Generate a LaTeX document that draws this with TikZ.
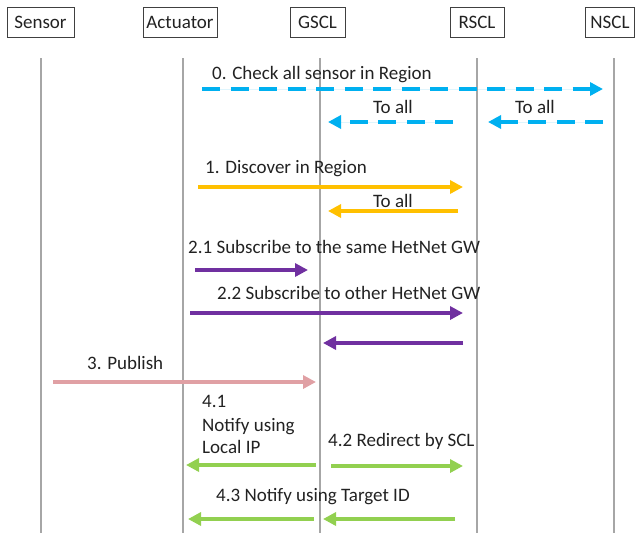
\documentclass[tikz,border=0pt]{standalone}
\usepackage{fontspec}
\setmainfont{Carlito}
\usetikzlibrary{arrows.meta}
\definecolor{cblue}{HTML}{00B0F0}
\definecolor{cgold}{HTML}{FFC000}
\definecolor{cpurple}{HTML}{7030A0}
\definecolor{cpink}{HTML}{E0A0A4}
\definecolor{cgreen}{HTML}{92D050}
\definecolor{cline}{HTML}{A6A6A6}
\definecolor{ctext}{HTML}{222222}
\tikzset{
  hdr/.style={draw=black!75, line width=0.9pt, minimum height=30pt, inner sep=0pt, text=ctext},
  life/.style={draw=cline, line width=1.1pt},
  msg/.style={line width=4.5pt, -{Triangle[length=13pt,width=13pt]}, shorten >=0pt},
  dmsg/.style={msg, dash pattern=on 18pt off 10.5pt},
  lbl/.style={anchor=base west, inner sep=0pt, text=ctext},
  clbl/.style={anchor=base, inner sep=0pt, text=ctext}
}
\begin{document}
\begin{tikzpicture}[x=1pt,y=-1pt,font=\fontsize{19}{23}\selectfont]
\useasboundingbox (0,0) rectangle (636,536);
% headers
\node[hdr, minimum width=67pt] (sensor) at (40.5,22) {Sensor};
\node[hdr, minimum width=74pt] (actuator) at (180,22) {Actuator};
\node[hdr, minimum width=55pt] (gscl) at (317.5,22) {GSCL};
\node[hdr, minimum width=54pt] (rscl) at (477,22) {RSCL};
\node[hdr, minimum width=49pt] (nscl) at (610,22) {NSCL};
% lifelines
\coordinate (sT) at (41,58);  \coordinate (sB) at (41,533);
\coordinate (aT) at (183,58); \coordinate (aB) at (183,533);
\coordinate (gT) at (320,58); \coordinate (gB) at (320,533);
\coordinate (rT) at (477,58); \coordinate (rB) at (477,533);
\coordinate (nT) at (614,58); \coordinate (nB) at (614,533);
\draw[life] (sT) -- (sB);
\draw[life] (aT) -- (aB);
\draw[life] (gT) -- (gB);
\draw[life] (rT) -- (rB);
\draw[life] (nT) -- (nB);
% 0
\coordinate (m0a) at (202,89); \coordinate (m0b) at (603,89);
\draw[dmsg, draw=cblue, fill=cblue] (m0a) -- (m0b);
\node[lbl] (l0) at (212,79) {0. Check all sensor in Region};
\coordinate (m0c) at (453,122); \coordinate (m0d) at (328,122);
\draw[dmsg, draw=cblue, fill=cblue] (m0c) -- (m0d);
\node[clbl] (l0b) at (393,113) {To all};
\coordinate (m0e) at (603,122); \coordinate (m0f) at (488,122);
\draw[dmsg, draw=cblue, fill=cblue] (m0e) -- (m0f);
\node[clbl] (l0c) at (535,113) {To all};
% 1
\coordinate (m1a) at (198,187); \coordinate (m1b) at (463,187);
\draw[msg, draw=cgold, fill=cgold] (m1a) -- (m1b);
\node[lbl] (l1) at (205,173) {1. Discover in Region};
\coordinate (m1c) at (458,211); \coordinate (m1d) at (328,211);
\draw[msg, draw=cgold, fill=cgold] (m1c) -- (m1d);
\node[clbl] (l1b) at (393,207) {To all};
% 2.1
\node[lbl] (l21) at (188,253) {2.1 Subscribe to the same HetNet GW};
\coordinate (m21a) at (195,270); \coordinate (m21b) at (308,270);
\draw[msg, draw=cpurple, fill=cpurple] (m21a) -- (m21b);
% 2.2
\node[lbl] (l22) at (217,299) {2.2 Subscribe to other HetNet GW};
\coordinate (m22a) at (190,313); \coordinate (m22b) at (463,313);
\draw[msg, draw=cpurple, fill=cpurple] (m22a) -- (m22b);
\coordinate (m22c) at (463,343); \coordinate (m22d) at (323,343);
\draw[msg, draw=cpurple, fill=cpurple] (m22c) -- (m22d);
% 3
\node[lbl] (l3) at (87,369) {3. Publish};
\coordinate (m3a) at (53,382); \coordinate (m3b) at (316,382);
\draw[msg, draw=cpink, fill=cpink] (m3a) -- (m3b);
% 4.1
\node[lbl] (l41a) at (202,407) {4.1};
\node[lbl] (l41b) at (202,431) {Notify using};
\node[lbl] (l41c) at (202,453) {Local IP};
\coordinate (m41a) at (316,465); \coordinate (m41b) at (186,465);
\draw[msg, draw=cgreen, fill=cgreen] (m41a) -- (m41b);
% 4.2
\node[lbl] (l42) at (328,446) {4.2 Redirect by SCL};
\coordinate (m42a) at (331,466); \coordinate (m42b) at (463,466);
\draw[msg, draw=cgreen, fill=cgreen] (m42a) -- (m42b);
% 4.3
\node[lbl] (l43) at (216,501) {4.3 Notify using Target ID};
\coordinate (m43a) at (314,519); \coordinate (m43b) at (188,519);
\draw[msg, draw=cgreen, fill=cgreen] (m43a) -- (m43b);
\coordinate (m43c) at (455,519); \coordinate (m43d) at (323,519);
\draw[msg, draw=cgreen, fill=cgreen] (m43c) -- (m43d);
\end{tikzpicture}
\end{document}
